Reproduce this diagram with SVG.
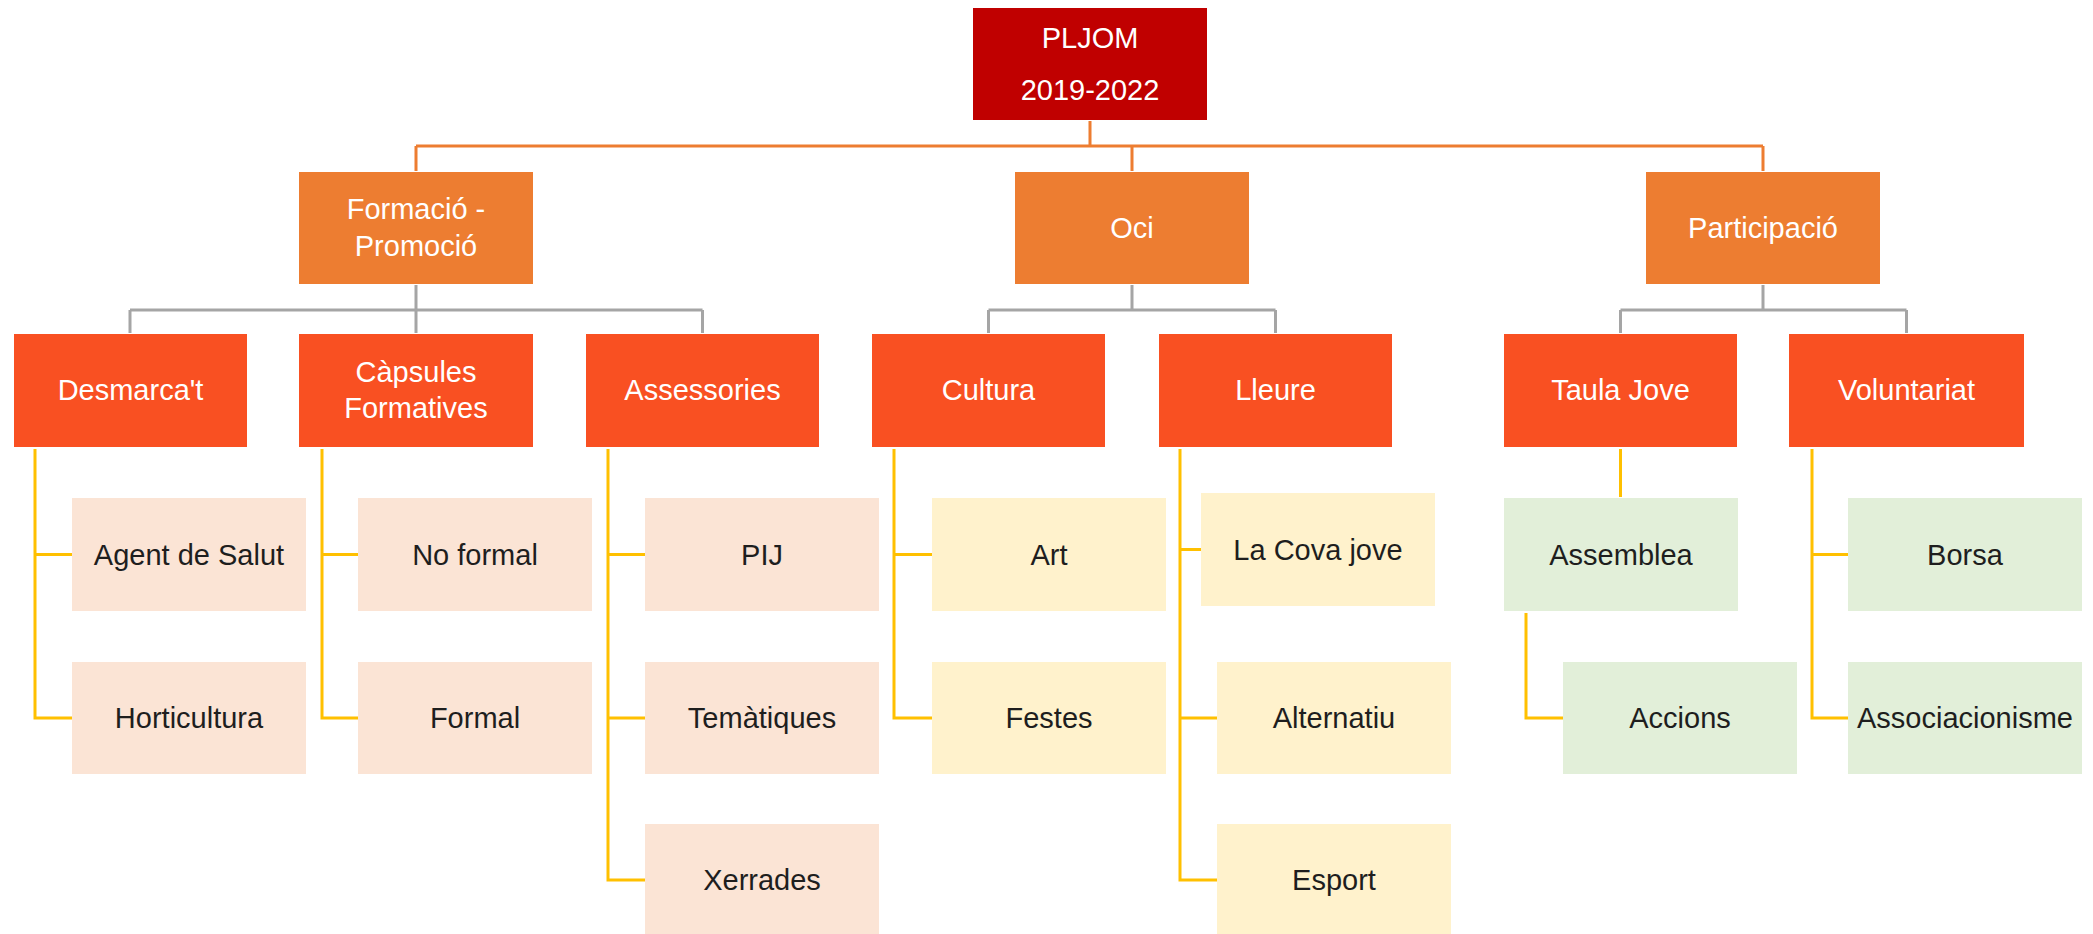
<svg xmlns="http://www.w3.org/2000/svg" width="2093" height="934" viewBox="0 0 2093 934">
<style>
text{font-family:"Liberation Sans",Arial,sans-serif;font-size:29px;text-anchor:middle}
.w{fill:#ffffff}
.k{fill:#1e1e1e}
.root{fill:#C00000}
.l2{fill:#ED7D31}
.l3{fill:#F95022}
.pk{fill:#FBE4D5}
.yl{fill:#FFF2CC}
.gr{fill:#E2EFD9}
.co{fill:none;stroke:#ED7D31;stroke-width:3}
.cg{fill:none;stroke:#A5A5A5;stroke-width:3}
.cy{fill:none;stroke:#FFC000;stroke-width:3}
</style>
<rect width="2093" height="934" fill="#ffffff"/>
<g id="connectors">
<path class="co" d="M1090 121V146M416 146H1763M416 146V171M1132 146V171M1763 146V171"/>
<path class="cg" d="M416 285V310M130 310H702.5M130 310V333M416 310V333M702.5 310V333"/>
<path class="cg" d="M1132 285V310M988.5 310H1275.5M988.5 310V333M1275.5 310V333"/>
<path class="cg" d="M1763 285V310M1620.5 310H1906.5M1620.5 310V333M1906.5 310V333"/>
<path class="cy" d="M35 449V718H72M35 554.5H72"/>
<path class="cy" d="M322 449V718H358M322 554.5H358"/>
<path class="cy" d="M608 449V880H645M608 554.5H645M608 718H645"/>
<path class="cy" d="M894 449V718H932M894 554.5H932"/>
<path class="cy" d="M1180 449V880H1217M1180 549.5H1201M1180 718H1217"/>
<path class="cy" d="M1620.5 449V497"/>
<path class="cy" d="M1526 613V718H1563"/>
<path class="cy" d="M1812 449V718H1848M1812 554.5H1848"/>
</g>
<g id="n-root"><rect class="root" x="973" y="8" width="234" height="112"/><text class="w" x="1090" y="48">PLJOM</text><text class="w" x="1090" y="100">2019-2022</text></g>
<g id="n-formacio"><rect class="l2" x="299" y="172" width="234" height="112"/><text class="w" x="416" y="219">Formació -</text><text class="w" x="416" y="256">Promoció</text></g>
<g id="n-oci"><rect class="l2" x="1015" y="172" width="234" height="112"/><text class="w" x="1132" y="238">Oci</text></g>
<g id="n-participacio"><rect class="l2" x="1646" y="172" width="234" height="112"/><text class="w" x="1763" y="238">Participació</text></g>
<g id="n-desmarcat"><rect class="l3" x="14" y="334" width="233" height="113"/><text class="w" x="130.5" y="400">Desmarca't</text></g>
<g id="n-capsules"><rect class="l3" x="299" y="334" width="234" height="113"/><text class="w" x="416" y="382">Càpsules</text><text class="w" x="416" y="418">Formatives</text></g>
<g id="n-assessories"><rect class="l3" x="586" y="334" width="233" height="113"/><text class="w" x="702.5" y="400">Assessories</text></g>
<g id="n-cultura"><rect class="l3" x="872" y="334" width="233" height="113"/><text class="w" x="988.5" y="400">Cultura</text></g>
<g id="n-lleure"><rect class="l3" x="1159" y="334" width="233" height="113"/><text class="w" x="1275.5" y="400">Lleure</text></g>
<g id="n-taula"><rect class="l3" x="1504" y="334" width="233" height="113"/><text class="w" x="1620.5" y="400">Taula Jove</text></g>
<g id="n-voluntariat"><rect class="l3" x="1789" y="334" width="235" height="113"/><text class="w" x="1906.5" y="400">Voluntariat</text></g>
<g id="n-agent"><rect class="pk" x="72" y="498" width="234" height="113"/><text class="k" x="189" y="565">Agent de Salut</text></g>
<g id="n-horticultura"><rect class="pk" x="72" y="662" width="234" height="112"/><text class="k" x="189" y="728">Horticultura</text></g>
<g id="n-noformal"><rect class="pk" x="358" y="498" width="234" height="113"/><text class="k" x="475" y="565">No formal</text></g>
<g id="n-formal"><rect class="pk" x="358" y="662" width="234" height="112"/><text class="k" x="475" y="728">Formal</text></g>
<g id="n-pij"><rect class="pk" x="645" y="498" width="234" height="113"/><text class="k" x="762" y="565">PIJ</text></g>
<g id="n-tematiques"><rect class="pk" x="645" y="662" width="234" height="112"/><text class="k" x="762" y="728">Temàtiques</text></g>
<g id="n-xerrades"><rect class="pk" x="645" y="824" width="234" height="112"/><text class="k" x="762" y="890">Xerrades</text></g>
<g id="n-art"><rect class="yl" x="932" y="498" width="234" height="113"/><text class="k" x="1049" y="565">Art</text></g>
<g id="n-festes"><rect class="yl" x="932" y="662" width="234" height="112"/><text class="k" x="1049" y="728">Festes</text></g>
<g id="n-lacova"><rect class="yl" x="1201" y="493" width="234" height="113"/><text class="k" x="1318" y="560">La Cova jove</text></g>
<g id="n-alternatiu"><rect class="yl" x="1217" y="662" width="234" height="112"/><text class="k" x="1334" y="728">Alternatiu</text></g>
<g id="n-esport"><rect class="yl" x="1217" y="824" width="234" height="112"/><text class="k" x="1334" y="890">Esport</text></g>
<g id="n-assemblea"><rect class="gr" x="1504" y="498" width="234" height="113"/><text class="k" x="1621" y="565">Assemblea</text></g>
<g id="n-accions"><rect class="gr" x="1563" y="662" width="234" height="112"/><text class="k" x="1680" y="728">Accions</text></g>
<g id="n-borsa"><rect class="gr" x="1848" y="498" width="234" height="113"/><text class="k" x="1965" y="565">Borsa</text></g>
<g id="n-associacionisme"><rect class="gr" x="1848" y="662" width="234" height="112"/><text class="k" x="1965" y="728">Associacionisme</text></g>
</svg>
